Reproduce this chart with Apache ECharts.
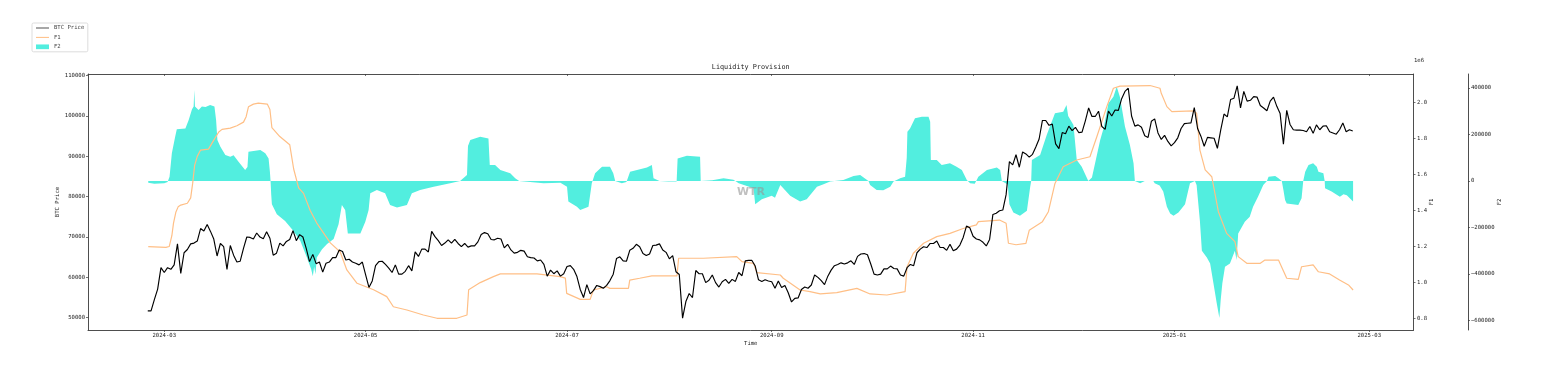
<!DOCTYPE html>
<html><head><meta charset="utf-8">
<script src="https://cdn.jsdelivr.net/npm/echarts@6/dist/echarts.min.js"></script>
<style>html,body{margin:0;padding:0;background:#fff}#c{width:1564px;height:366px}</style>
</head><body><div id="c"></div><script>
// ---------------- data ----------------
const chartTitle = 'Liquidity Provision';
const seriesNames = ['BTC Price', 'F1', 'F2'];
const xTickLabels = ['2024-03', '2024-05', '2024-07', '2024-09', '2024-11', '2025-01', '2025-03'];
const btcTicks = [50000, 60000, 70000, 80000, 90000, 100000, 110000];
const f1Ticks = [0.8, 1.0, 1.2, 1.4, 1.6, 1.8, 2.0];          // ×1e6
const f2Ticks = [-600000, -400000, -200000, 0, 200000, 400000];

// BTC price, one value per day starting 2024-02-25
const btcStartDate = '2024-02-25';
const btcPrice = [
  51700,51700,54500,57100,62400,
  61200,62400,62000,63100,68300,61000,66100,66900,68300,68500,69000,72100,71500,73100,71400,69500,65300,68400,67600,62000,67900,65500,63800,64000,67200,70000,69900,69500,71000,70000,69600,
  71300,69700,65500,66000,68500,67800,68900,69400,71600,69100,70600,70000,67200,63900,65700,63400,63800,61300,63500,63800,64900,64900,66800,66400,64300,64500,63800,63500,63100,63800,
  60600,57500,59100,62900,63900,64000,63200,62300,61200,63100,60800,60800,61500,62900,61600,66300,65200,67000,67000,66300,71400,70100,69100,67900,68500,69300,68500,69400,68400,67600,68400,
  67500,67800,67800,68800,70600,71100,70800,69400,69300,69700,69500,67300,68200,66800,66000,66200,66700,66500,65100,64900,64800,64100,64300,63200,60300,61800,60900,61600,60300,60900,
  62700,62900,62000,60200,57000,55000,58200,55900,56700,58000,57700,57300,58000,59200,60800,64700,65100,64100,64000,66700,67200,68200,67600,65900,65400,65800,67900,68000,68300,66800,66200,
  64600,65400,61400,60700,49900,54000,56000,55000,61700,60900,60900,58700,59300,60600,58700,57600,58900,59500,58500,59500,59000,61200,60400,64100,64200,64200,62800,59400,59000,59400,59100,
  58900,57300,59100,57500,58000,56200,53900,54800,54900,57000,57600,57300,58100,60600,60000,59200,58200,60300,61800,62900,63200,63600,63300,63600,64100,63200,65200,65800,65900,65600,
  63300,60800,60600,60800,62100,62100,62800,62200,62100,60600,60300,62400,63200,62900,66100,67000,67600,67400,68400,68400,69000,67400,67400,66700,68200,66600,67000,68000,69900,72700,72300,
  70200,69500,69300,68700,67800,69400,75600,75900,76500,76700,80500,88700,87900,90400,87300,91100,90600,89800,90500,92300,94300,98900,98900,97700,98000,93100,91900,95900,95600,97500,
  96400,97200,95900,96000,98800,102000,99900,99900,101200,97400,96700,101200,100000,101500,101400,104300,106100,106900,100000,97500,97800,97200,95100,94700,98700,99300,95800,94200,95200,93700,92600,
  93400,94600,96900,98100,98200,98300,102100,96900,95000,92500,94700,94600,94500,92000,96500,100500,99800,104100,104400,107500,102000,106100,103700,103900,104800,104700,102600,102000,101300,103700,104700,
  102400,100600,93000,101400,97900,96600,96500,96500,96400,96100,97400,95700,97800,96600,97500,97600,96100,95800,95500,96600,98300,96100,96600,96300
];

// F1 (in millions), at days counted from 2024-03-01
const f1Days = [-4.85,0.5,1.5,2.3,2.8,3.5,4.2,5,7,8,8.6,9.2,10,11,13.4,15,16.5,17.5,20,22,24,24.8,25.5,27,28.5,31.2,32,32.6,35,38,39.2,40.7,42.2,44.2,46.2,50.3,53.3,55.3,58.4,63.4,67.4,69.4,73.5,78.5,82.6,88.6,91.7,92.2,95.7,99.7,101.8,112.9,119.9,121.5,121.9,126,129,130,134,135,140.6,141,144,147.7,155.3,155.8,163.3,173.4,175,178.5,179.5,186.6,187.5,192.6,195.6,198.7,203.7,209.8,213.8,218.9,224.4,225,226.9,230,234,238,242,246,246.6,253,255,255.7,258,261,262,266,267.8,269.8,272.3,276.4,280.4,282.5,285.5,287.5,289.5,298.6,301.6,302,303.7,305.2,311.7,312.7,313.7,315.3,317.3,319.3,321.8,324.3,325.3,327.9,332,333.4,337.5,340,343.5,344.5,348,349.6,353,356,358.7,360.1];
const f1Values = [1.20,1.195,1.20,1.26,1.33,1.39,1.42,1.43,1.44,1.47,1.55,1.65,1.70,1.735,1.74,1.79,1.835,1.85,1.857,1.87,1.89,1.92,1.975,1.99,1.995,1.99,1.96,1.86,1.81,1.765,1.63,1.525,1.495,1.40,1.33,1.22,1.17,1.07,0.996,0.96,0.922,0.866,0.848,0.82,0.802,0.802,0.82,0.96,1.00,1.033,1.048,1.048,1.033,1.025,0.94,0.907,0.907,0.959,0.977,0.968,0.968,1.014,1.024,1.037,1.037,1.135,1.135,1.144,1.116,1.107,1.055,1.042,1.024,0.959,0.95,0.937,0.944,0.968,0.937,0.931,0.95,1.088,1.163,1.218,1.255,1.273,1.30,1.32,1.338,1.347,1.329,1.218,1.21,1.218,1.29,1.338,1.393,1.55,1.643,1.68,1.698,1.81,1.976,2.078,2.09,2.093,2.078,2.05,1.976,1.948,1.953,1.94,1.735,1.625,1.587,1.393,1.273,1.227,1.144,1.107,1.107,1.125,1.125,1.024,1.018,1.088,1.098,1.06,1.048,1.014,0.987,0.959];

// F2, at days counted from 2024-03-01
const f2Days = [-4.85,-3,0,1.0,1.6,2.3,3.3,3.8,6.4,7.4,8.4,8.9,9.1,9.3,10.4,11.4,12.5,13.9,15.2,15.7,16.1,17,18.5,20,21,22.5,24.5,25.2,25.5,29.1,30.6,31.6,32.0,32.2,32.4,32.6,34.1,36.6,38.7,41.2,43.2,44.5,45,45.4,45.8,46.2,47.8,49.3,51.3,52.8,53.8,54.8,55.6,59.4,60.9,61.9,62.4,64.4,66.9,68.4,70.5,73.5,75,77.5,81.6,86.6,89.6,91.7,92.0,92.7,95.7,98.2,98.6,100.2,101.8,104.8,106.3,107.5,110,114.9,120,122,122.4,125,126,128.5,129.5,130.5,132.6,135,136,136.6,138.6,140,141.1,143.2,146.2,147.7,148.2,150,152.7,155.2,155.5,158.3,162.3,162.5,166,169.4,172.4,174,178.5,179,181,184,185,186.6,189.6,192.6,194.6,197.7,199.5,201.7,205.7,208.8,210.8,213.3,213.8,215.8,217.8,219.9,220.9,222.9,224.4,224.9,225.1,225.9,227.4,229.5,231.5,232,232.2,234,235.5,238,240,241.6,243.1,244.1,245.5,246.6,249.2,252.2,253.2,253.7,255.5,256,257.2,259.2,261.3,262.3,262.6,262.8,265.3,267.3,269.8,272.3,273.3,273.8,275.4,276.4,277.9,279.9,281,283.5,284.5,286,287.5,288.5,289.5,291,292.5,293.6,294,295.6,297,299.6,300,301.5,302.6,303.7,304.7,305.7,307.2,309.2,310.2,310.7,312.2,312.7,313.7,314.3,315.8,316.8,317.8,318.8,319.6,320,320.5,321.3,322.8,324.3,324.8,325.3,327.3,328.8,329.8,331.3,332.9,334,334.5,336.5,337.5,338.5,339,339.5,340,343.5,344.5,345,345.6,346.6,348,349.1,349.6,351.1,351.5,351.6,353.6,356.1,357.2,358.2,359.1,360.1];
const f2Values = [-8000,-12000,-10000,-5000,18000,119000,190000,222000,226000,262000,308000,320000,391000,320000,305000,320000,318000,327000,320000,262000,176000,147000,112000,104000,110000,83000,47000,60000,126000,133000,119000,97000,40000,0,-60000,-100000,-143000,-172000,-208000,-258000,-330000,-380000,-410000,-370000,-402000,-330000,-294000,-272000,-250000,-186000,-104000,-125000,-226000,-226000,-176000,-125000,-53000,-39000,-53000,-104000,-114000,-104000,-53000,-39000,-25000,-10000,0,25000,150000,176000,190000,183000,69000,69000,47000,33000,11000,0,-4000,-10000,-8000,-25000,-89000,-111000,-125000,-111000,-10000,33000,61000,61000,33000,0,-10000,-5000,40000,47000,58000,69000,11000,0,-3000,-3000,97000,108000,104000,0,3000,11000,5000,-10000,-32000,-100000,-79000,-64000,-72000,-18000,-64000,-89000,-79000,-25000,-15000,-3000,4000,21000,25000,0,-18000,-39000,-40000,-25000,-3000,11000,18000,100000,212000,226000,270000,276000,276000,255000,90000,90000,69000,76000,61000,47000,4000,-10000,-12000,18000,47000,58000,47000,0,-15000,-100000,-136000,-150000,-128000,-25000,0,90000,112000,198000,291000,298000,327000,280000,241000,90000,61000,0,15000,176000,226000,334000,362000,405000,360000,234000,155000,76000,0,-10000,0,0,-10000,-20000,-46000,-111000,-140000,-150000,-136000,-100000,-39000,-10000,0,-18000,-172000,-301000,-330000,-355000,-441000,-527000,-590000,-513000,-440000,-369000,-355000,-301000,-340000,-226000,-176000,-154000,-111000,-68000,-18000,0,18000,21000,11000,0,-39000,-82000,-97000,-104000,-75000,0,40000,69000,76000,61000,40000,33000,0,-32000,-46000,-68000,-57000,-62000,-75000,-89000];

// ---------------- build ----------------
const DAY = 86400000;
const T0 = Date.UTC(2024, 2, 1);
const parseDay = s => { const p = s.split('-').map(Number); return Date.UTC(p[0], p[1] - 1, p[2] || 1); };
const btcStart = parseDay(btcStartDate);
const btcData = btcPrice.map((v, i) => [btcStart + i * DAY, v]);
const f1Data = f1Days.map((d, i) => [T0 + d * DAY, f1Values[i]]);
const f2Data = f2Days.map((d, i) => [T0 + d * DAY, f2Values[i]]);
const xTickValues = xTickLabels.map(parseDay);
const xMin = T0 - 23.1 * DAY, xMax = T0 + 378.4 * DAY;

const FONT = 'DejaVu Sans Mono';
const TXT = '#222';
const AX = '#3a3a3a';
const fs = 5.6;
const cyan = '#52EEDF';
const orange = '#FFBF86';
const lineIcon = 'path://M0,0H20V1.6H0Z';

const chart = echarts.init(document.getElementById('c'), null, {renderer: 'canvas'});
const labelX = v => { let best = 0, bd = Infinity; xTickValues.forEach((t, i) => { const d = Math.abs(t - v); if (d < bd) { bd = d; best = i; } }); return xTickLabels[best]; };
const plain = v => String(Math.round(v)).replace('-', '\u2212');
const nameStyle = {fontSize: fs, color: TXT, fontFamily: FONT};

chart.setOption({
  animation: false,
  backgroundColor: '#fff',
  textStyle: {fontFamily: FONT},
  grid: {left: 88, right: 150.5, top: 74, bottom: 36, containLabel: false},
  legend: {
    orient: 'vertical', left: 32, top: 23,
    data: [
      {name: seriesNames[0], icon: lineIcon, itemStyle: {color: '#555'}},
      {name: seriesNames[1], icon: lineIcon, itemStyle: {color: orange}},
      {name: seriesNames[2], icon: 'rect', itemStyle: {color: cyan}}
    ],
    symbolKeepAspect: true,
    itemWidth: 13, itemHeight: 4.7, itemGap: 3.4,
    padding: [2, 3.5, 2, 4],
    backgroundColor: '#fff', borderColor: '#d4d4d4', borderWidth: 0.8, borderRadius: 1.5,
    textStyle: {fontSize: fs, color: '#444', fontFamily: FONT}
  },
  xAxis: [{
    type: 'value', min: xMin, max: xMax,
    name: 'Time', nameLocation: 'middle', nameGap: 11, nameMoveOverlap: false,
    nameTextStyle: nameStyle,
    axisLine: {show: true, onZero: false, lineStyle: {color: AX, width: 0.9}},
    axisTick: {show: true, customValues: xTickValues, length: 2, lineStyle: {color: AX, width: 0.7}},
    axisLabel: {customValues: xTickValues, formatter: labelX, fontSize: fs, color: TXT, margin: 3, fontFamily: FONT},
    splitLine: {show: false}
  }, {
    type: 'value', position: 'top', min: xMin, max: xMax,
    axisLine: {show: true, onZero: false, lineStyle: {color: AX, width: 0.9}},
    axisTick: {show: true, inside: true, customValues: xTickValues, length: 2, lineStyle: {color: AX, width: 0.7}},
    axisLabel: {show: false}, splitLine: {show: false}
  }],
  yAxis: [{
    type: 'value', position: 'left', min: 46950, max: 110420,
    name: seriesNames[0], nameLocation: 'middle', nameGap: 27, nameRotate: 90, nameMoveOverlap: false,
    nameTextStyle: nameStyle,
    axisLine: {show: true, onZero: false, lineStyle: {color: AX, width: 0.9}},
    axisTick: {show: true, customValues: btcTicks, length: 2, lineStyle: {color: AX, width: 0.7}},
    axisLabel: {customValues: btcTicks, formatter: plain, fontSize: fs, color: TXT, margin: 3, fontFamily: FONT},
    splitLine: {show: false}
  }, {
    type: 'value', position: 'right', min: 0.737, max: 2.157,
    name: seriesNames[1], nameLocation: 'middle', nameGap: 15, nameRotate: 90, nameMoveOverlap: false,
    nameTextStyle: nameStyle,
    axisLine: {show: true, onZero: false, lineStyle: {color: AX, width: 0.9}},
    axisTick: {show: true, customValues: f1Ticks, length: 2, lineStyle: {color: AX, width: 0.7}},
    axisLabel: {customValues: f1Ticks, formatter: v => v.toFixed(1), fontSize: fs, color: TXT, margin: 3.5, fontFamily: FONT},
    splitLine: {show: false}
  }, {
    type: 'value', position: 'right', offset: 54.5, min: -641760, max: 460267,
    name: seriesNames[2], nameLocation: 'middle', nameGap: 29, nameRotate: 90, nameMoveOverlap: false,
    nameTextStyle: nameStyle,
    axisLine: {show: true, onZero: false, lineStyle: {color: AX, width: 0.9}},
    axisTick: {show: true, customValues: f2Ticks, length: 2, lineStyle: {color: AX, width: 0.7}},
    axisLabel: {customValues: f2Ticks, formatter: plain, fontSize: fs, color: TXT, margin: 3, fontFamily: FONT},
    splitLine: {show: false}
  }],
  graphic: [
    {type: 'text', x: 750.7, y: 67, z: 10, style: {text: chartTitle, fill: TXT, font: '6.8px "DejaVu Sans Mono"', textAlign: 'center', textVerticalAlign: 'middle'}},
    {type: 'text', x: 1419, y: 60.7, z: 10, style: {text: '1e6', fill: TXT, font: fs + 'px "DejaVu Sans Mono"', textAlign: 'center', textVerticalAlign: 'middle'}},
    {type: 'text', x: 751, y: 192.5, z: 100, style: {text: 'WTR', fill: 'rgba(150,150,150,0.6)', font: 'bold 11px "DejaVu Sans"', textAlign: 'center', textVerticalAlign: 'middle'}}
  ],
  series: [{
    name: seriesNames[0], type: 'line', xAxisIndex: 0, yAxisIndex: 0, data: btcData,
    symbol: 'none', showSymbol: false, z: 5,
    itemStyle: {color: '#000'}, lineStyle: {color: '#000', width: 1.15}
  }, {
    name: seriesNames[1], type: 'line', xAxisIndex: 0, yAxisIndex: 1, data: f1Data,
    symbol: 'none', showSymbol: false, z: 4,
    itemStyle: {color: orange}, lineStyle: {color: orange, width: 1.2}
  }, {
    name: seriesNames[2], type: 'line', xAxisIndex: 0, yAxisIndex: 2, data: f2Data,
    symbol: 'none', showSymbol: false, z: 2,
    itemStyle: {color: cyan}, lineStyle: {width: 0, color: cyan},
    areaStyle: {color: cyan, opacity: 1, origin: 0}
  }]
});
</script></body></html>
